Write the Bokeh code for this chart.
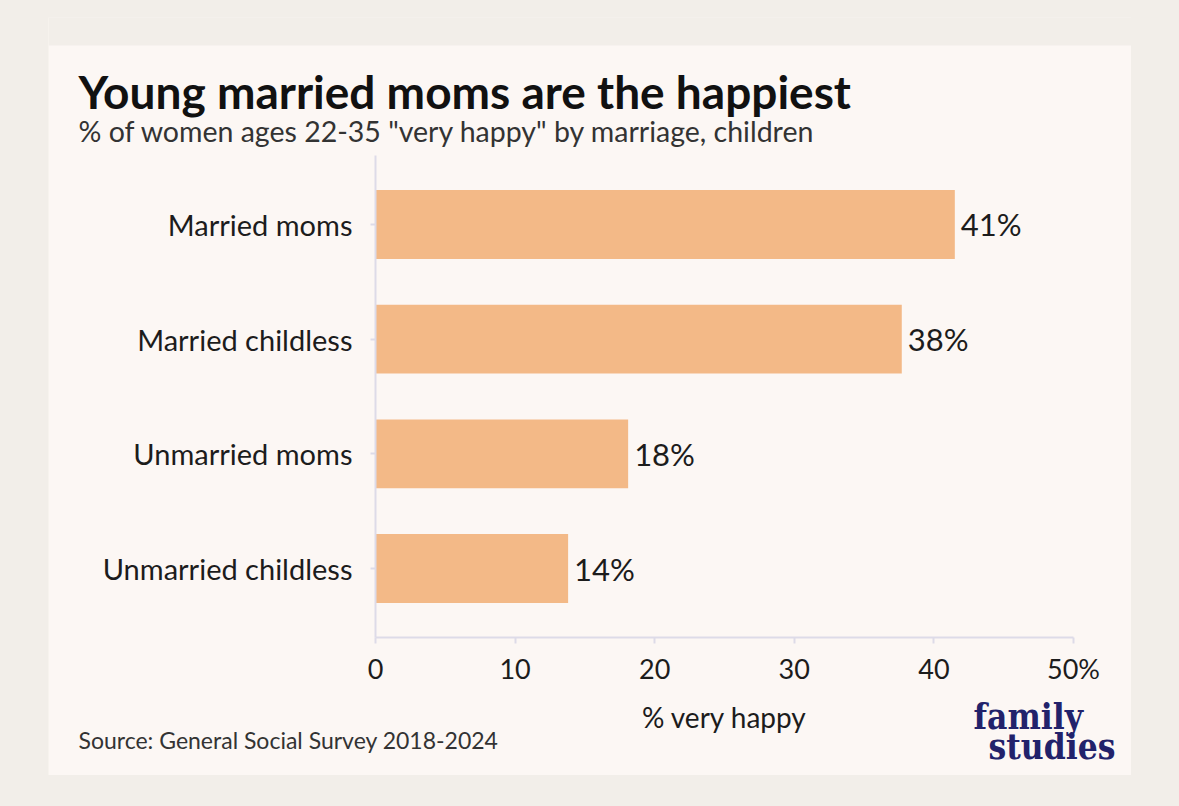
from bokeh.plotting import figure
from bokeh.models import (FactorRange, Range1d, Label, LabelSet, ColumnDataSource,
                          FixedTicker, BoxAnnotation, LinearAxis, CategoricalAxis)
from bokeh.core.properties import value
from bokeh.layouts import column
from bokeh.embed import file_html
from bokeh.resources import INLINE

# ---- data ----
categories = ["Married moms", "Married childless", "Unmarried moms", "Unmarried childless"]
values = [41.5, 37.7, 18.1, 13.8]
value_labels = ["41%", "38%", "18%", "14%"]
x_ticks = [0, 10, 20, 30, 40, 50]
x_tick_labels = ["0", "10", "20", "30", "40", "50%"]

title_text = "Young married moms are the happiest"
subtitle_text = '% of women ages 22-35 "very happy" by marriage, children'
source_text = "Source: General Social Survey 2018-2024"
x_axis_label = "% very happy"
logo_lines = ["family", "studies"]

# ---- style ----
OUTER = "#f2eee9"
CARD = "#fcf7f4"
BAR = "#f3b987"
AXIS = "#dddbe8"
TEXT = "#1c1c1c"
NAVY = "#22226b"
FONT = "Lato"
LOGO_FONT = "'DejaVu Serif Condensed', 'DejaVu Serif', serif"

# the frame fills the whole figure; axes are drawn inside it at fixed locations
p = figure(
    width=1083, height=758,
    y_range=FactorRange(factors=categories[::-1], range_padding=0.6525, range_padding_units="percent"),
    x_range=Range1d(-23.42, 54.155),
    output_backend="svg", toolbar_location=None,
    x_axis_type=None, y_axis_type=None,
    min_border=0,
    background_fill_color=CARD, border_fill_color=OUTER, outline_line_color=None,
)
p.grid.visible = False

# strip of page background above the card
p.add_layout(BoxAnnotation(bottom=730, top=760, bottom_units="screen", top_units="screen",
                           fill_color=OUTER, fill_alpha=1, line_color=None, level="underlay"))

src = ColumnDataSource(dict(cat=categories, val=values, lab=value_labels))
p.hbar(y="cat", right="val", left=0, height=0.6, source=src, fill_color=BAR, line_color=None)
p.add_layout(LabelSet(x="val", y="cat", text="lab", source=src, x_offset=6,
                      text_baseline="middle", text_align="left", text_font=value(FONT),
                      text_font_size="31px", text_color=TEXT))

xa = LinearAxis(fixed_location=-0.1016, bounds=(0, 50))
xa.ticker = FixedTicker(ticks=x_ticks)
xa.major_label_overrides = {t: l for t, l in zip(x_ticks, x_tick_labels)}
xa.axis_line_color = AXIS
xa.axis_line_width = 2
xa.major_tick_line_color = AXIS
xa.major_tick_line_width = 2
xa.major_tick_out = 6
xa.major_tick_in = 0
xa.minor_tick_line_color = None
xa.major_label_text_font = FONT
xa.major_label_text_font_size = "27px"
xa.major_label_text_color = TEXT
xa.major_label_standoff = 8
xa.axis_label = x_axis_label
xa.axis_label_text_font = FONT
xa.axis_label_text_font_style = "normal"
xa.axis_label_text_font_size = "28px"
xa.axis_label_text_color = TEXT
xa.axis_label_standoff = 12
p.add_layout(xa, "below")

ya = CategoricalAxis(fixed_location=0, bounds=(-0.1016, 4.1016))
ya.axis_line_color = AXIS
ya.axis_line_width = 2
ya.major_tick_line_color = AXIS
ya.major_tick_line_width = 2
ya.major_tick_out = 5
ya.major_tick_in = 0
ya.major_label_text_font = FONT
ya.major_label_text_font_size = "29px"
ya.major_label_text_color = TEXT
ya.major_label_standoff = 18
p.add_layout(ya, "left")

# Label screen coordinates: from the frame's bottom-left corner (= card bottom-left)
def lab(text, x, y, size, style="normal", font=FONT, color=TEXT):
    p.add_layout(Label(x=x, y=y, x_units="screen", y_units="screen", text=text,
                       text_font=font, text_font_size=size, text_font_style=style,
                       text_color=color, text_baseline="alphabetic", text_align="left"))

lab(title_text, 30, 684, "46px", "bold", color="#111111")
lab(subtitle_text, 30, 645, "28.5px", color="#333333")
lab(source_text, 30, 36, "23px", color="#333333")
lab(logo_lines[0], 925, 59, "35px", "bold", font=LOGO_FONT, color=NAVY)
lab(logo_lines[1], 940, 29, "35px", "bold", font=LOGO_FONT, color=NAVY)

layout = column(p, styles={"background-color": OUTER, "padding": "17px 48px 31px 48px"})

open("out.html", "w").write(file_html(layout, INLINE))
